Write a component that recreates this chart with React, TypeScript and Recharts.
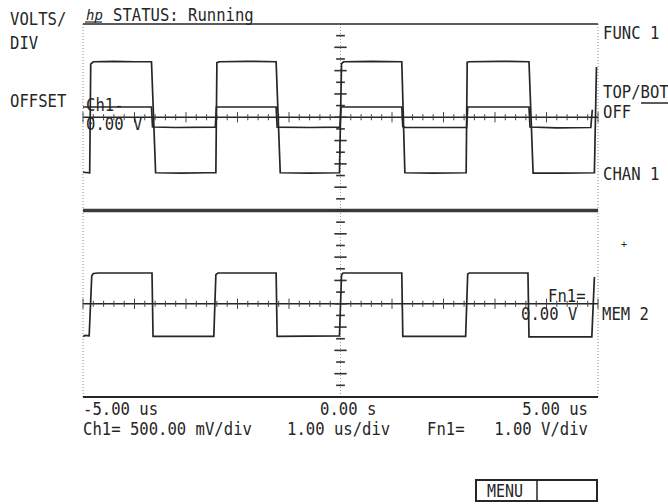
import React from 'react';
import { LineChart, Line, XAxis, YAxis, ReferenceLine } from 'recharts';

// ---- Data (time in us, values in volts) ----
const ch1Time = [-5.0, -4.87, -4.85, -4.8, -4.4, -4.0, -3.67, -3.59, -3.1, -2.6, -2.42, -2.4, -2.35, -1.8, -1.25, -1.17, -0.6, -0.02, 0.02, 0.06, 0.6, 1.19, 1.25, 1.8, 2.44, 2.46, 2.5, 3.1, 3.66, 3.74, 4.3, 4.93, 4.97];
const ch1Volts = [-1.18, -1.19, 1.14, 1.19, 1.2, 1.19, 1.19, -1.19, -1.2, -1.19, -1.19, 1.17, 1.19, 1.2, 1.19, -1.19, -1.2, -1.19, 1.15, 1.19, 1.2, 1.19, -1.19, -1.2, -1.19, 1.18, 1.19, 1.2, 1.19, -1.2, -1.2, -1.19, 1.08];

const mem2Time = [-5.0, -3.67, -3.65, -3.2, -2.43, -2.41, -1.25, -1.23, -0.6, -0.01, 0.01, 1.19, 1.21, 1.26, 2.45, 2.47, 3.66, 3.68, 4.2, 4.86, 4.89];
const mem2Volts = [0.22, 0.22, -0.21, -0.22, -0.21, 0.22, 0.22, -0.21, -0.22, -0.21, 0.22, 0.22, -0.2, -0.22, -0.22, 0.22, 0.22, -0.21, -0.23, -0.22, 0.16];

const fn1Time = [-5.0, -4.96, -4.88, -4.83, -4.8, -4.7, -3.66, -3.64, -2.46, -2.42, -2.38, -1.25, -1.23, -0.02, 0.02, 0.05, 1.19, 1.21, 2.43, 2.47, 2.5, 3.64, 3.66, 4.88, 4.93];
const fn1Volts = [-1.4, -1.36, -1.38, 1.2, 1.3, 1.32, 1.32, -1.4, -1.4, 1.25, 1.32, 1.32, -1.4, -1.38, 1.24, 1.32, 1.32, -1.4, -1.4, 1.28, 1.32, 1.32, -1.42, -1.42, 1.15];

const timeLabels = ['-5.00 us', '0.00 s', '5.00 us'];
const scaleLabels = ['Ch1= 500.00 mV/div', '1.00 us/div', 'Fn1=', '1.00 V/div'];
const leftLabels = ['VOLTS/', 'DIV', 'OFFSET'];
const rightLabels = ['FUNC 1', 'TOP/BOT', 'OFF', 'CHAN 1', 'MEM 2'];
const statusText = 'STATUS: Running';
const ch1OffsetLabels = ['Ch1-', '0.00 V'];
const fn1OffsetLabels = ['Fn1=', '0.00 V'];
const menuLabel = 'MENU';

const zip = (t: number[], v: number[]) => t.map((x, i) => ({ t: x, v: v[i] }));
const ch1Data = zip(ch1Time, ch1Volts);
const mem2Data = zip(mem2Time, mem2Volts);
const fn1Data = zip(fn1Time, fn1Volts);

// graticule tick positions
const hTicks: number[] = [];
for (let i = 0; i <= 50; i++) hTicks.push(Math.round((-5 + i * 0.2) * 100) / 100);
const vTicks: number[] = [];
for (let i = 1; i < 32; i++) vTicks.push(2 - i * 0.25);

const INK = '#262626';
const FONT = '"DejaVu Sans Mono", monospace';

export default function App() {
  const W = 668;
  const H = 504;
  const txt = (s: string, x: number, y: number, anchor: 'start' | 'end' = 'start', size = 15.6) => (
    <text transform={`translate(${x},${y}) scale(1,1.12)`} x={0} y={0} textAnchor={anchor} fontFamily={FONT} fontSize={size} fill={INK}>{s}</text>
  );
  return (
    <div style={{ position: 'absolute', left: 0, top: 0, width: W, height: H, background: '#fff' }}>
      <LineChart width={W} height={H} margin={{ top: 24, right: 70, bottom: 107, left: 83 }}>
        <XAxis type="number" dataKey="t" domain={[-5, 5]} allowDataOverflow hide />
        <YAxis yAxisId="top" type="number" domain={[-6, 2]} allowDataOverflow hide />
        <YAxis yAxisId="bot" type="number" domain={[-4, 12]} allowDataOverflow hide />

        {/* borders */}
        <ReferenceLine yAxisId="top" x={-5} stroke="#8a8a8a" strokeDasharray="1 2" />
        <ReferenceLine yAxisId="top" x={5} stroke="#8a8a8a" strokeDasharray="1 2" />
        <ReferenceLine yAxisId="top" x={0} stroke="#9a9a9a" strokeDasharray="1 2" />
        <ReferenceLine yAxisId="top" y={2} stroke={INK} strokeWidth={1.5} />
        <ReferenceLine yAxisId="top" y={-2} stroke="#3a3a3a" strokeWidth={3.5} />
        <ReferenceLine yAxisId="bot" y={-4} stroke={INK} strokeWidth={2} />

        {/* zero lines */}
        <ReferenceLine yAxisId="top" y={0} stroke={INK} strokeWidth={1.3} />
        <ReferenceLine yAxisId="bot" y={0} stroke={INK} strokeWidth={1.3} />

        {/* horizontal ticks */}
        {hTicks.map((t) => {
          const major = Math.abs(t - Math.round(t)) < 1e-6;
          return (
            <ReferenceLine key={'ht' + t} yAxisId="top" segment={[{ x: t, y: major ? -0.11 : -0.065 }, { x: t, y: major ? 0.11 : 0.065 }]} stroke="#444" strokeWidth={1} />
          );
        })}
        {hTicks.map((t) => {
          const major = Math.abs(t - Math.round(t)) < 1e-6;
          return (
            <ReferenceLine key={'hb' + t} yAxisId="bot" segment={[{ x: t, y: major ? -0.22 : -0.13 }, { x: t, y: major ? 0.22 : 0.13 }]} stroke="#444" strokeWidth={1} />
          );
        })}
        {/* vertical ticks on centre axis */}
        {vTicks.map((v) => {
          const major = Math.abs(v * 2 - Math.round(v * 2)) < 1e-6;
          return (
            <ReferenceLine key={'vt' + v} yAxisId="top" segment={[{ x: major ? -0.12 : -0.085, y: v }, { x: major ? 0.12 : 0.085, y: v }]} stroke="#333" strokeWidth={1.6} />
          );
        })}

        <Line data={ch1Data} yAxisId="top" dataKey="v" type="linear" dot={false} stroke={INK} strokeWidth={1.7} isAnimationActive={false} />
        <Line data={mem2Data} yAxisId="top" dataKey="v" type="linear" dot={false} stroke={INK} strokeWidth={1.7} isAnimationActive={false} />
        <Line data={fn1Data} yAxisId="bot" dataKey="v" type="linear" dot={false} stroke={INK} strokeWidth={1.7} isAnimationActive={false} />
      </LineChart>

      <svg width={W} height={H} style={{ position: 'absolute', left: 0, top: 0, pointerEvents: 'none' }}>
        {txt(leftLabels[0], 10, 25)}
        {txt(leftLabels[1], 10, 49)}
        {txt(leftLabels[2], 10, 107)}
        <text x={86} y={20} fontFamily={FONT} fontSize={14} fontStyle="italic" fill={INK}>hp</text>
        <line x1={85} y1={22} x2={102} y2={22} stroke={INK} strokeWidth={1.2} />
        {txt(statusText, 113, 21)}
        {txt(ch1OffsetLabels[0], 86, 111)}
        {txt(ch1OffsetLabels[1], 86, 130)}
        {txt(rightLabels[0], 603, 39)}
        {txt(rightLabels[1], 603, 98)}
        <line x1={641} y1={103} x2={668} y2={103} stroke={INK} strokeWidth={1.5} />
        {txt(rightLabels[2], 603, 118)}
        {txt(rightLabels[3], 603, 180)}
        {txt('+', 621, 248, 'start', 10)}
        {txt(fn1OffsetLabels[0], 548, 302)}
        {txt(fn1OffsetLabels[1], 521, 320)}
        {txt(rightLabels[4], 602, 320)}
        {txt(timeLabels[0], 83, 415)}
        {txt(timeLabels[1], 320, 415)}
        {txt(timeLabels[2], 588, 415, 'end')}
        {txt(scaleLabels[0], 83, 435)}
        {txt(scaleLabels[1], 287, 435)}
        {txt(scaleLabels[2], 427, 435)}
        {txt(scaleLabels[3], 588, 435, 'end')}
        <rect x={476} y={480} width={121} height={21} fill="none" stroke={INK} strokeWidth={2} />
        <line x1={537} y1={480} x2={537} y2={501} stroke={INK} strokeWidth={1.5} />
        {txt(menuLabel, 487, 497, 'start', 15)}
      </svg>
    </div>
  );
}
